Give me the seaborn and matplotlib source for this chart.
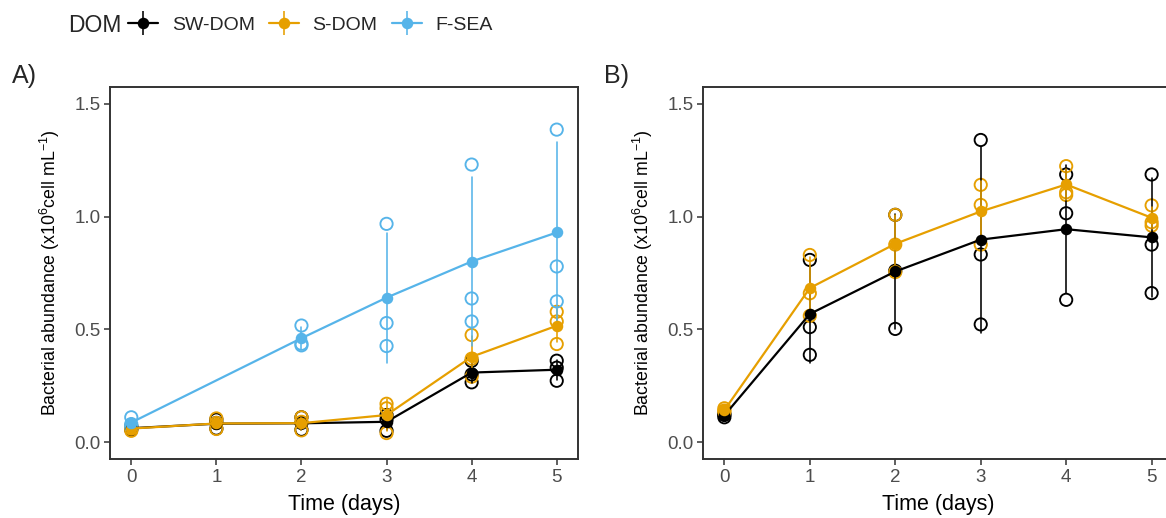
import matplotlib
matplotlib.use("Agg")
import numpy as np
import pandas as pd
import matplotlib.pyplot as plt
import seaborn as sns
from matplotlib.lines import Line2D
from matplotlib.collections import LineCollection
from matplotlib.container import ErrorbarContainer
from matplotlib.legend_handler import HandlerErrorbar

# ---------------------------------------------------------------- data
days = [0, 1, 2, 3, 4, 5]
treatments = ["SW-DOM", "S-DOM", "F-SEA"]
palette = {"SW-DOM": "#000000", "S-DOM": "#E69F00", "F-SEA": "#56B4E9"}

# Bacterial abundance, triplicate incubations (x10^6 cells mL^-1)
a_sw_dom = [[0.055, 0.060, 0.070], [0.060, 0.085, 0.100], [0.055, 0.085, 0.110],
            [0.050, 0.100, 0.120], [0.265, 0.300, 0.360], [0.272, 0.330, 0.361]]
a_s_dom = [[0.050, 0.060, 0.070], [0.058, 0.085, 0.105], [0.052, 0.090, 0.110],
           [0.040, 0.150, 0.170], [0.290, 0.370, 0.475], [0.435, 0.535, 0.578]]
a_f_sea_days = [0, 2, 3, 4, 5]
a_f_sea = [[0.070, 0.080, 0.110], [0.429, 0.436, 0.517], [0.426, 0.528, 0.968],
           [0.535, 0.637, 1.231], [0.624, 0.779, 1.386]]

b_sw_dom = [[0.110, 0.120, 0.125], [0.387, 0.510, 0.808], [0.502, 0.760, 1.008],
            [0.522, 0.832, 1.340], [0.631, 1.015, 1.187], [0.661, 0.876, 1.187]]
b_s_dom = [[0.135, 0.140, 0.150], [0.560, 0.660, 0.830], [0.754, 0.876, 1.008],
           [0.876, 1.052, 1.141], [1.096, 1.108, 1.224], [0.960, 0.975, 1.050]]

y_ticks = [0.0, 0.5, 1.0, 1.5]
y_label = r"Bacterial abundance (x10$^{6}$cell mL$^{-1}$)"
x_label = "Time (days)"


def to_long(series):
    rows = []
    for name, t, reps in series:
        for d, vals in zip(t, reps):
            for v in vals:
                rows.append({"DOM": name, "day": d, "abundance": v})
    return pd.DataFrame(rows)


df_a = to_long([("SW-DOM", days, a_sw_dom), ("S-DOM", days, a_s_dom),
                ("F-SEA", a_f_sea_days, a_f_sea)])
df_b = to_long([("SW-DOM", days, b_sw_dom), ("S-DOM", days, b_s_dom)])

# ---------------------------------------------------------------- style
sns.set_style("ticks")
plt.rcParams["font.family"] = ["Liberation Sans", "DejaVu Sans"]
plt.rcParams["mathtext.fontset"] = "custom"
plt.rcParams["mathtext.rm"] = "Liberation Sans"
plt.rcParams["mathtext.it"] = "Liberation Sans:italic"
plt.rcParams["mathtext.bf"] = "Liberation Sans:bold"

axis_col = "#333333"
tick_text = "#4D4D4D"

W, H = 1166, 518
fig = plt.figure(figsize=(W / 100, H / 100), dpi=100)
fig.patch.set_facecolor("white")

ax_a = fig.add_axes([110 / W, (H - 459) / H, 468 / W, 372 / H])
ax_b = fig.add_axes([703 / W, (H - 459) / H, 470 / W, 372 / H])


def draw_panel(ax, df):
    order = [t for t in treatments if t in set(df["DOM"])]
    sns.scatterplot(data=df, x="day", y="abundance", hue="DOM", hue_order=order,
                    palette=palette, marker="o", s=78, linewidth=1.35,
                    legend=False, ax=ax, zorder=3)
    pts = ax.collections[-1]
    fc = pts.get_facecolors()
    pts.set_edgecolors(fc)
    pts.set_facecolors("none")
    sns.lineplot(data=df, x="day", y="abundance", hue="DOM", hue_order=order,
                 palette=palette, estimator="mean", errorbar="sd",
                 err_style="bars", err_kws={"linewidth": 1.15, "zorder": 4},
                 marker="o", markersize=8.3, markeredgewidth=0, linewidth=1.6,
                 legend=False, ax=ax, zorder=5)

    ax.set_xlim(-0.25, 5.25)
    ax.set_ylim(-0.075, 1.575)
    ax.set_xticks(days)
    ax.set_yticks(y_ticks)
    ax.set_yticklabels([f"{v:.1f}" for v in y_ticks])
    for s in ax.spines.values():
        s.set_visible(True)
        s.set_color(axis_col)
        s.set_linewidth(1.4)
    ax.tick_params(axis="both", colors=axis_col, labelcolor=tick_text,
                   length=4.5, width=1.1, labelsize=13.5, pad=2.5)
    ax.set_xlabel(x_label, fontsize=15.5, color="black")
    ax.set_ylabel(y_label, fontsize=12.8, color="black")
    ax.xaxis.set_label_coords(0.5, -0.093)
    ax.yaxis.set_label_coords(-0.102, 0.5)
    ax.grid(False)


draw_panel(ax_a, df_a)
draw_panel(ax_b, df_b)

fig.text(12 / W, 1 - 76 / H, "A)", fontsize=18, va="center", ha="left")
fig.text(604 / W, 1 - 76 / H, "B)", fontsize=18, va="center", ha="left")

# ---------------------------------------------------------------- legend
handles = []
for t in treatments:
    c = palette[t]
    ln = Line2D([], [], color=c, marker="o", markersize=8.3,
                markeredgewidth=0, linewidth=1.6)
    bars = LineCollection([], colors=c, linewidths=1.15)
    handles.append(ErrorbarContainer((ln, (), (bars,)), has_xerr=False,
                                     has_yerr=True, label=t))

fig.text(68 / W, 1 - 25 / H, "DOM", fontsize=16.5, va="center", ha="left")
fig.legend(handles=handles, labels=treatments, loc="center left",
           bbox_to_anchor=(128 / W, 1 - 25 / H), ncol=3, frameon=False,
           borderaxespad=0, borderpad=0, fontsize=14, handlelength=1.55,
           handletextpad=0.7, columnspacing=0.72,
           handler_map={ErrorbarContainer: HandlerErrorbar(xerr_size=0.6)})

fig.savefig("out.png", dpi=100, facecolor="white")
